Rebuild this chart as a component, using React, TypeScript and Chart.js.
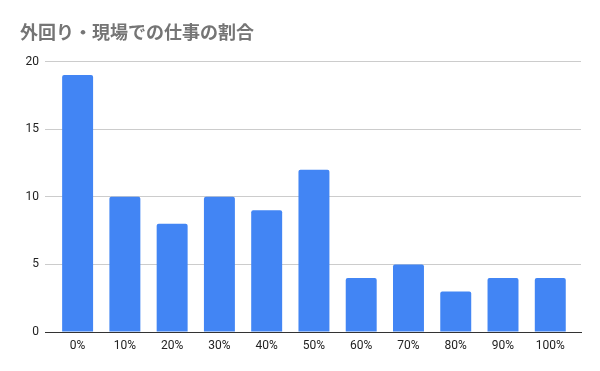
import React, { useEffect, useRef } from "react";
import { Chart, registerables } from "chart.js";

Chart.register(...registerables);

const title = "外回り・現場での仕事の割合";
const categories = ["0%", "10%", "20%", "30%", "40%", "50%", "60%", "70%", "80%", "90%", "100%"];
const values = [19, 10, 8, 10, 9, 12, 4, 5, 3, 4, 4];
const yTicks = [0, 5, 10, 15, 20];

export default function App() {
  const ref = useRef<HTMLCanvasElement | null>(null);
  useEffect(() => {
    if (!ref.current) return;
    const chart = new Chart(ref.current, {
      type: "bar",
      data: {
        datasets: [
          {
            data: values.map((v, i) => ({ x: i, y: v })),
            backgroundColor: "#4285F4",
            borderWidth: 0,
            borderRadius: 2,
            categoryPercentage: 1,
            barPercentage: 0.655,
          },
        ],
      },
      options: {
        responsive: false,
        animation: false,
        layout: { padding: { left: 20, right: 19, top: 0, bottom: 0 } },
        plugins: {
          legend: { display: false },
          tooltip: { enabled: false },
          title: {
            display: true,
            text: title,
            align: "start",
            color: "#757575",
            font: { family: "'Noto Sans CJK JP', Roboto, sans-serif", size: 18, weight: "bold" },
            padding: { top: 21, bottom: 19 },
          },
        },
        scales: {
          x: {
            type: "linear",
            offset: false,
            min: -0.69,
            max: 10.65,
            afterBuildTicks: (s: any) => { s.ticks = categories.map((_, i) => ({ value: i })); },
            grid: { display: false, drawTicks: false, offset: false },
            border: { display: true, color: "#333333", width: 1 },
            ticks: {
              color: "#222222",
              font: { family: "Roboto, sans-serif", size: 12 },
              padding: 7,
              maxRotation: 0,
              autoSkip: false,
              callback: (v: any) => categories[Math.round(Number(v))] ?? "",
            },
            afterFit: (s: any) => { s.height = 39; },
          },
          y: {
            min: 0,
            max: 20,
            afterBuildTicks: (s: any) => { s.ticks = yTicks.map((v) => ({ value: v })); },
            grid: {
              drawTicks: false,
              color: (ctx: any) => (ctx.tick && ctx.tick.value === 0 ? "#333333" : "#cccccc"),
            },
            border: { display: false },
            ticks: { color: "#222222", font: { family: "Roboto, sans-serif", size: 12 }, padding: 6 },
            afterFit: (s: any) => { s.width = 25; },
          },
        },
      },
    });
    return () => chart.destroy();
  }, []);
  return (
    <div style={{ position: "fixed", left: 0, top: 0, width: 600, height: 371, background: "#fff" }}>
      <canvas ref={ref} width={600} height={371} />
    </div>
  );
}
